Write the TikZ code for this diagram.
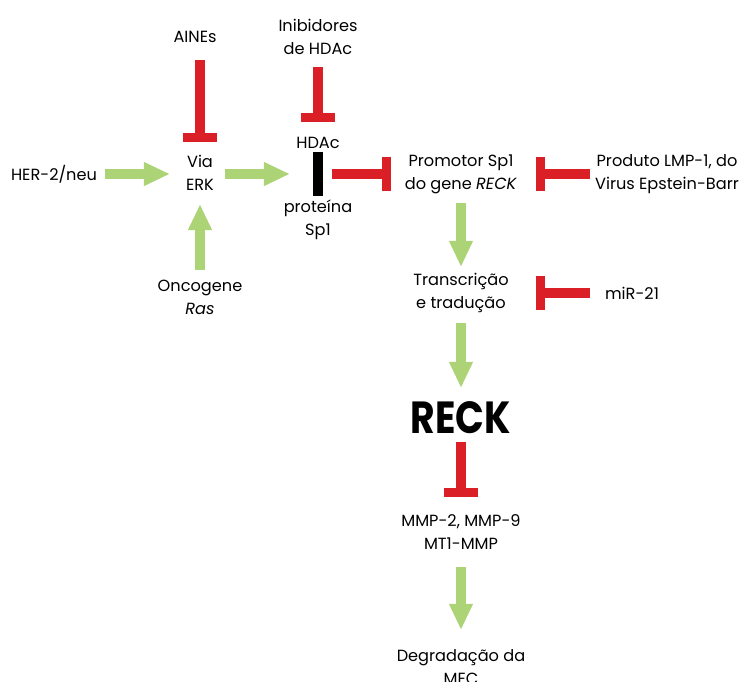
\documentclass[tikz,border=0pt]{standalone}
\usepackage{fontspec}
\setmainfont{Poppins}
\usepackage{tikz}
\usetikzlibrary{arrows.meta,positioning}
\definecolor{leafgreen}{RGB}{172,211,118}
\definecolor{inhred}{RGB}{218,32,38}
\tikzstyle{txt}=[inner sep=0pt, align=center, font=\fontsize{11.5}{16.4}\selectfont]
\tikzstyle{big}=[inner sep=0pt, font=\fontsize{32}{32}\selectfont\bfseries]
\tikzstyle{blackbar}=[rectangle, fill=black, inner sep=0pt, minimum width=0.23cm, minimum height=1.1cm]
\tikzstyle{garrow}=[draw=leafgreen, line width=0.23cm, -{Triangle[width=0.55cm, length=0.65cm]}]
\tikzstyle{rinhib}=[draw=inhred, line width=0.23cm, -{Bar[width=0.85cm]}]

\begin{document}
\begin{tikzpicture}[x=0.025cm, y=-0.025cm]
\useasboundingbox (0,0) rectangle (745,682);
%Left part
\node[txt] (her) at (54,174){HER-2/neu};
\node[txt] (via) at (200,173){Via\\ERK};
\node[txt] (aines) at (195,37){AINEs};
\node[txt] (onco) at (200,297){Oncogene\\\textit{Ras}};
%Sp1
\node[txt] (inib) at (318,37){Inibidores\\de HDAc};
\node[txt] (hdac) at (318,143){HDAc};
\node[blackbar] (sp1bar) at (318,174){};
\node[txt] (prot) at (318,220){proteína\\Sp1};
%Middle column
\node[txt] (prom) at (461,174){Promotor Sp1\\do gene \textit{RECK}};
\node[txt] (lmp) at (667,174){Produto LMP-1, do\\Virus Epstein-Barr};
\node[txt] (trans) at (461,293){Transcrição\\e tradução};
\node[txt] (mir) at (632,293){miR-21};
\node[big] (reck) at (461,418){\scalebox{0.84}[1]{RECK}};
\node[txt] (mmp) at (461,532){MMP-2, MMP-9\\MT1-MMP};
\node[txt] (deg) at (461,667){Degradação da\\MEC};

%Arrows
\draw[garrow, shorten <=1.275cm, shorten >=0.75cm] (her.center) -- (her.center -| via.center);
\draw[garrow, shorten <=0.625cm, shorten >=0.7cm] (via.center |- sp1bar.center) -- (sp1bar.center);
\draw[garrow, shorten <=0.675cm, shorten >=0.775cm] (onco.center) -- (via.center);
\draw[garrow, shorten <=0.725cm, shorten >=0.65cm] (prom.center) -- (trans.center);
\draw[garrow, shorten <=0.75cm, shorten >=0.75cm] (trans.center) -- (reck.center);
\draw[garrow, shorten <=0.875cm, shorten >=0.925cm] (mmp.center) -- (deg.center);
%Inhibitions
\draw[rinhib, shorten <=0.575cm, shorten >=0.775cm] (via.center |- aines.center) -- (via.center);
\draw[rinhib, shorten <=0.75cm, shorten >=0.525cm] (inib.center) -- (hdac.center);
\draw[rinhib, shorten <=0.35cm, shorten >=1.75cm] (sp1bar.center) -- (prom.center);
\draw[rinhib, shorten <=1.925cm, shorten >=1.875cm] (lmp.center) -- (prom.center);
\draw[rinhib, shorten <=1.05cm, shorten >=1.875cm] (mir.center) -- (trans.center);
\draw[rinhib, shorten <=0.6cm, shorten >=0.875cm] (reck.center) -- (mmp.center);
\end{tikzpicture}
\end{document}
